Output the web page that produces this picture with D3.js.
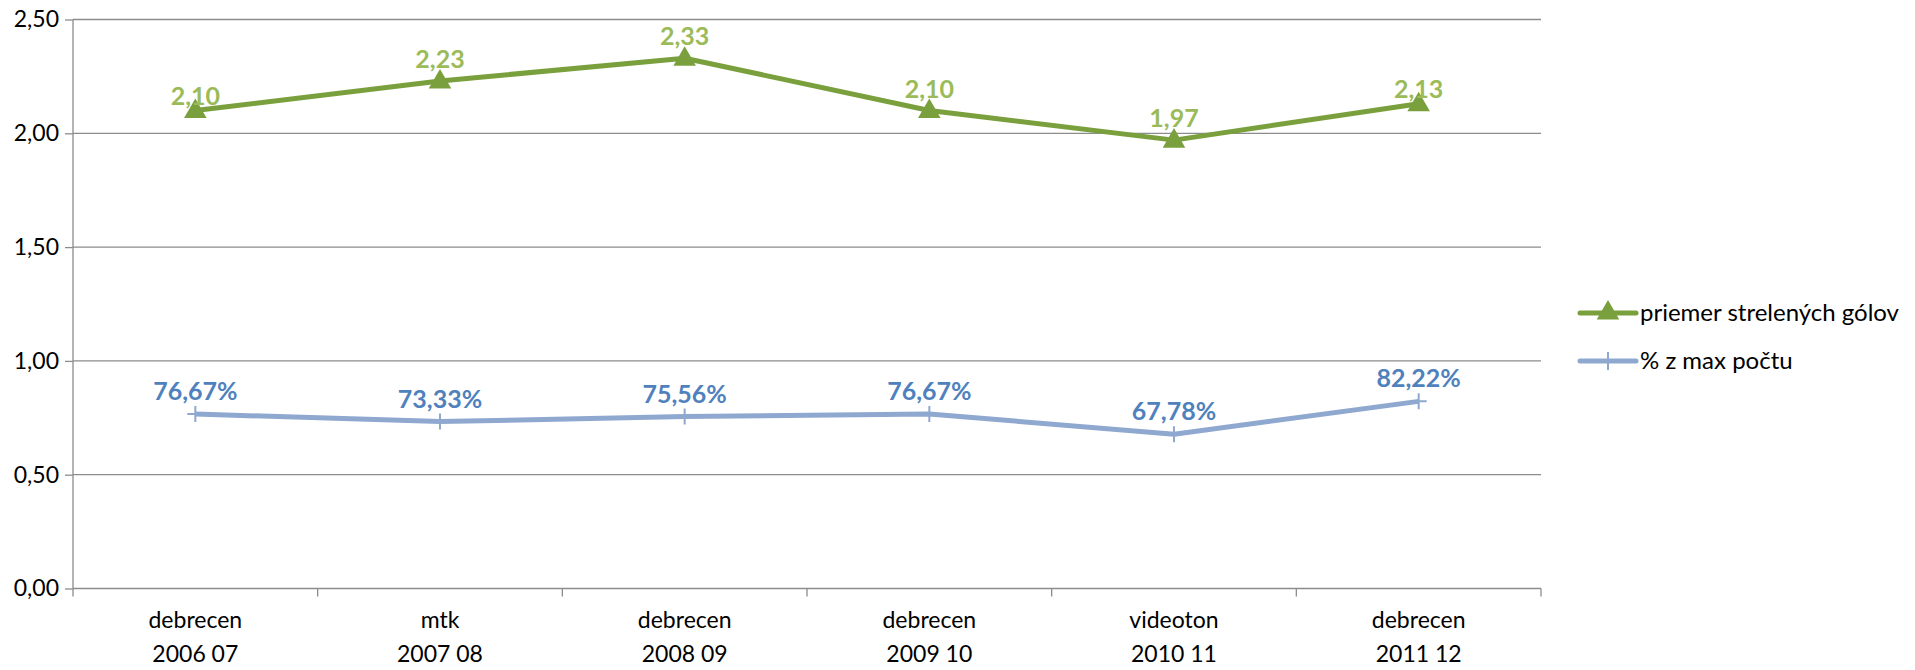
<!DOCTYPE html>
<html><head><meta charset="utf-8">
<script src="https://cdn.jsdelivr.net/npm/d3@7"></script>
<style>body{margin:0;background:#fff;} text{font-family:Lato,"Open Sans",sans-serif;}</style>
</head><body>
<svg id="c" width="1915" height="670"></svg>
<script>
const categories = [["debrecen","2006 07"],["mtk","2007 08"],["debrecen","2008 09"],["debrecen","2009 10"],["videoton","2010 11"],["debrecen","2011 12"]];
const goals = [2.10, 2.23, 2.33, 2.10, 1.97, 2.13];
const pct = [0.7667, 0.7333, 0.7556, 0.7667, 0.6778, 0.8222];
const yTicks = [0, 0.5, 1.0, 1.5, 2.0, 2.5];
const seriesNames = ["priemer strelených gólov", "% z max počtu"];

const svg = d3.select("#c");
const L = 73, R = 1541, T = 19.5, B = 588.5;
const x = d3.scaleBand().domain(d3.range(categories.length)).range([L, R]);
const y = d3.scaleLinear().domain([0, 2.5]).range([B, T]);
const fmt = v => v.toFixed(2).replace(".", ",");
const fmtP = v => (v*100).toFixed(2).replace(".", ",") + "%";

// gridlines
svg.append("g").selectAll("line").data(yTicks.filter(d=>d>0)).join("line")
  .attr("x1", L).attr("x2", R).attr("y1", d=>y(d)).attr("y2", d=>y(d))
  .attr("stroke", "#8c8c8c").attr("stroke-width", 1.3);

// y axis
const ya = svg.append("g").attr("transform", `translate(${L},0)`)
  .call(d3.axisLeft(y).tickValues(yTicks).tickFormat(fmt).tickSize(8).tickPadding(6));
ya.select(".domain").attr("stroke", "#8c8c8c").attr("stroke-width", 1.3).attr("d", `M0,${T}V${B}`);
ya.selectAll(".tick line").attr("stroke", "#8c8c8c").attr("stroke-width", 1.3);
ya.selectAll(".tick text").attr("font-size", 23).attr("fill", "#000").attr("font-family", "Lato");

// x axis
const xa = svg.append("g").attr("transform", `translate(0,${B})`);
xa.append("line").attr("x1", L).attr("x2", R).attr("stroke", "#8c8c8c").attr("stroke-width", 1.3);
const bounds = d3.range(categories.length + 1).map(i => L + i * x.step());
xa.selectAll("line.t").data(bounds).join("line").attr("class","t")
  .attr("x1", d=>d).attr("x2", d=>d).attr("y1", 0).attr("y2", 8)
  .attr("stroke", "#8c8c8c").attr("stroke-width", 1.3);
const xl = xa.selectAll("text").data(categories).join("text")
  .attr("text-anchor", "middle").attr("font-size", 23).attr("fill", "#000")
  .attr("transform", (d,i)=>`translate(${x(i)+x.bandwidth()/2},0)`);
xl.append("tspan").attr("x", 0).attr("y", 39).text(d=>d[0]);
xl.append("tspan").attr("x", 0).attr("y", 73).text(d=>d[1]);

const cx = i => x(i) + x.bandwidth()/2;
const green = "#7aa03d", greenLbl = "#9bbb59", blue = "#8fa8d0", blueLbl = "#4f81bd";
const line = d3.line().x((d,i)=>cx(i)).y(d=>y(d));

svg.append("path").datum(pct).attr("d", line).attr("fill","none").attr("stroke", blue).attr("stroke-width", 5).attr("stroke-linejoin","round");
svg.append("g").selectAll("path").data(pct).join("path")
  .attr("d", (d,i)=>`M${cx(i)-8},${y(d)}H${cx(i)+8}M${cx(i)},${y(d)-8}V${y(d)+8}`)
  .attr("stroke", blue).attr("stroke-width", 2);
svg.append("g").selectAll("text").data(pct).join("text")
  .attr("x",(d,i)=>cx(i)).attr("y", d=>y(d)-14).attr("text-anchor","middle")
  .attr("font-size", 25).attr("font-weight","bold").attr("fill", blueLbl).text(fmtP);

svg.append("path").datum(goals).attr("d", line).attr("fill","none").attr("stroke", green).attr("stroke-width", 5).attr("stroke-linejoin","round");
const tri = d3.symbol().type(d3.symbolTriangle).size(220);
svg.append("g").selectAll("path").data(goals).join("path")
  .attr("d", tri).attr("transform",(d,i)=>`translate(${cx(i)},${y(d)+1})`).attr("fill", green);
const n = goals.length;
svg.append("g").selectAll("text").data(goals).join("text")
  .attr("x",(d,i)=>cx(i)).attr("y", (d,i)=>y(d)-((i===0||i===n-1)?6:13)).attr("text-anchor","middle")
  .attr("font-size", 25).attr("font-weight","bold").attr("fill", greenLbl).text(fmt);

// legend
const lg = svg.append("g");
const ly = [313, 361];
lg.append("line").attr("x1",1580).attr("x2",1636).attr("y1",ly[0]).attr("y2",ly[0]).attr("stroke",green).attr("stroke-width",5).attr("stroke-linecap","round");
lg.append("path").attr("d", tri).attr("transform",`translate(1608,${ly[0]})`).attr("fill", green);
lg.append("line").attr("x1",1580).attr("x2",1636).attr("y1",ly[1]).attr("y2",ly[1]).attr("stroke",blue).attr("stroke-width",5).attr("stroke-linecap","round");
lg.append("path").attr("d",`M1608,${ly[1]-9}V${ly[1]+9}`).attr("stroke",blue).attr("stroke-width",2);
lg.selectAll("text").data(seriesNames).join("text")
  .attr("x", 1640).attr("y",(d,i)=>ly[i]).attr("dy","0.35em").attr("font-size",24).attr("fill","#000").text(d=>d);
</script>
</body></html>
